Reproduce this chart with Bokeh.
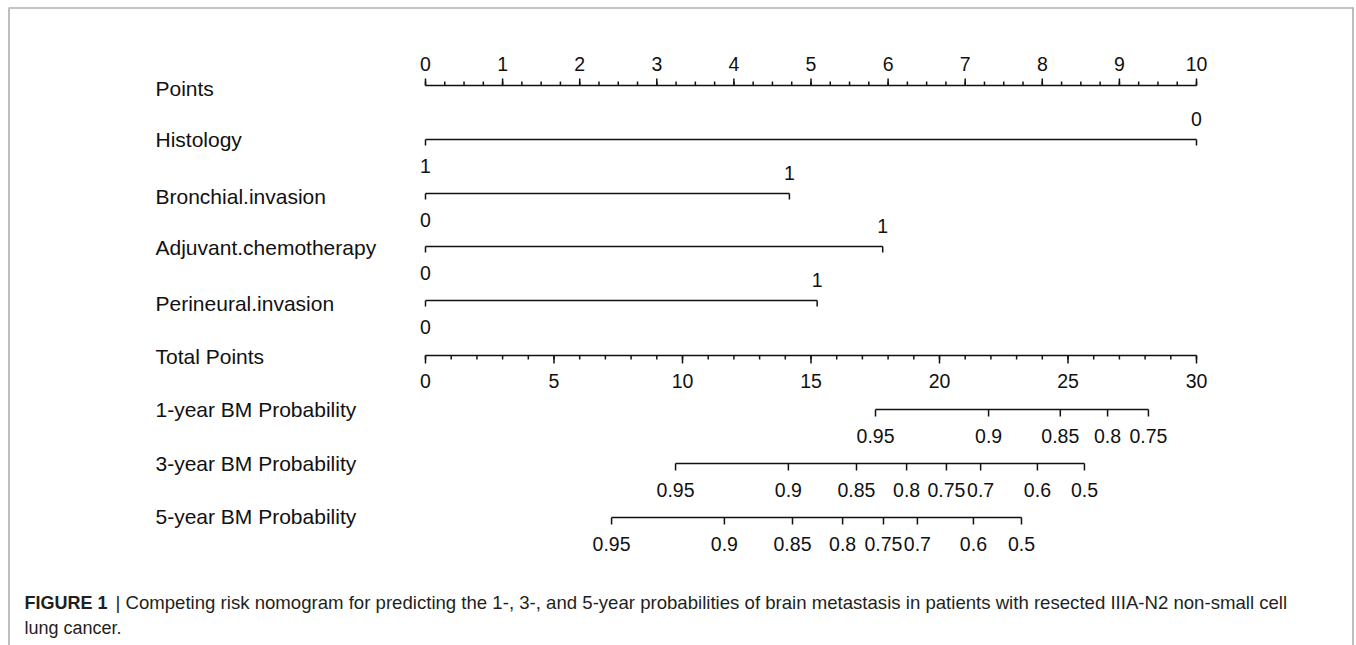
from bokeh.plotting import figure
from bokeh.models import Range1d
from bokeh.core.properties import value
from bokeh.embed import file_html
from bokeh.resources import INLINE

# ---------------- data ----------------
points_major = list(range(0, 11))
points_labels = [str(v) for v in points_major]
points_minor = [i * 0.25 for i in range(0, 41)]

total_major = [0, 5, 10, 15, 20, 25, 30]
total_labels = [str(v) for v in total_major]
total_minor = list(range(0, 31))

row_names = ["Points", "Histology", "Bronchial.invasion", "Adjuvant.chemotherapy",
             "Perineural.invasion", "Total Points", "1-year BM Probability",
             "3-year BM Probability", "5-year BM Probability"]

var_names = ["Histology", "Bronchial.invasion", "Adjuvant.chemotherapy", "Perineural.invasion"]
var_levels = [["1", "0"], ["0", "1"], ["0", "1"], ["0", "1"]]
var_points = [[0.0, 10.0], [0.0, 4.72], [0.0, 5.93], [0.0, 5.08]]

prob_names = ["1-year BM Probability", "3-year BM Probability", "5-year BM Probability"]
prob_labels = [
    ["0.95", "0.9", "0.85", "0.8", "0.75"],
    ["0.95", "0.9", "0.85", "0.8", "0.75", "0.7", "0.6", "0.5"],
    ["0.95", "0.9", "0.85", "0.8", "0.75", "0.7", "0.6", "0.5"],
]
prob_total = [
    [17.51, 21.91, 24.70, 26.54, 28.13],
    [9.73, 14.12, 16.77, 18.72, 20.27, 21.60, 23.81, 25.64],
    [7.24, 11.63, 14.28, 16.23, 17.82, 19.14, 21.32, 23.19],
]

caption_bold = "FIGURE 1"
caption_line1 = "| Competing risk nomogram for predicting the 1-, 3-, and 5-year probabilities of brain metastasis in patients with resected IIIA-N2 non-small cell"
caption_line2 = "lung cancer."

# ---------------- layout ----------------
W, H = 1356, 645
X0 = 425.0          # page x of 0 points
PPU = 77.1          # page px per point
def px(xpage):      # page pixel -> points units (layout helper)
    return (xpage - X0) / PPU
def tot(t):         # total points -> points units
    return t / 3.0

FONT = value("Liberation Sans")
INK = "#111111"
LW = 1.5
TICK_FS = "19.5px"

p = figure(width=W, height=H, output_backend="svg", toolbar_location=None,
           x_range=Range1d(px(0), px(W)), y_range=Range1d(H, 0),
           min_border=0, outline_line_color=None)
p.axis.visible = False
p.grid.visible = False
p.background_fill_color = "white"
p.border_fill_color = "white"

# frame (light grey box)
p.line([px(8.5), px(8.5)], [7, H], line_color="#a8a8a8", line_width=1.5)
p.line([px(8.5), px(1352.5)], [7.5, 7.5], line_color="#c4c4c4", line_width=2)
p.line([px(1352.5), px(1352.5)], [7, H], line_color="#a8a8a8", line_width=1.5)

# row labels
row_y = [88, 139, 196, 247, 303, 356, 409, 463, 516]
p.text(x=[px(155)] * len(row_names), y=row_y, text=row_names,
       text_font=FONT, text_font_size="21px", text_color=INK,
       text_baseline="middle", text_align="left")

# Points axis
yP = 85
p.line([points_major[0], points_major[-1]], [yP, yP], line_color=INK, line_width=LW)
p.segment(x0=points_minor, y0=[yP] * len(points_minor), x1=points_minor,
          y1=[yP - 4] * len(points_minor), line_color=INK, line_width=LW)
p.segment(x0=points_major, y0=[yP] * len(points_major), x1=points_major,
          y1=[yP - 7] * len(points_major), line_color=INK, line_width=LW)
p.text(x=points_major, y=[63] * len(points_major), text=points_labels,
       text_font=FONT, text_font_size=TICK_FS, text_color=INK,
       text_baseline="middle", text_align="center")

# variables
var_line_y = [139, 193, 246, 300]
for name, levels, pts, yl in zip(var_names, var_levels, var_points, var_line_y):
    p.line([pts[0], pts[-1]], [yl, yl], line_color=INK, line_width=LW)
    p.segment(x0=pts, y0=[yl] * len(pts), x1=pts, y1=[yl + 6] * len(pts),
              line_color=INK, line_width=LW)
    p.text(x=[pts[0]], y=[yl + 26], text=[levels[0]], text_font=FONT,
           text_font_size=TICK_FS, text_color=INK, text_baseline="middle", text_align="center")
    p.text(x=[pts[1]], y=[yl - 21], text=[levels[1]], text_font=FONT,
           text_font_size=TICK_FS, text_color=INK, text_baseline="middle", text_align="center")

# Total points axis
yT = 355
tmaj = [tot(v) for v in total_major]
tmin = [tot(v) for v in total_minor]
p.line([tmaj[0], tmaj[-1]], [yT, yT], line_color=INK, line_width=LW)
p.segment(x0=tmin, y0=[yT] * len(tmin), x1=tmin, y1=[yT + 4] * len(tmin),
          line_color=INK, line_width=LW)
p.segment(x0=tmaj, y0=[yT] * len(tmaj), x1=tmaj, y1=[yT + 8] * len(tmaj),
          line_color=INK, line_width=LW)
p.text(x=tmaj, y=[380] * len(tmaj), text=total_labels, text_font=FONT,
       text_font_size=TICK_FS, text_color=INK, text_baseline="middle", text_align="center")

# probability axes
prob_line_y = [409, 463, 517]
for labels, totals, yl in zip(prob_labels, prob_total, prob_line_y):
    xs = [tot(v) for v in totals]
    p.line([min(xs), max(xs)], [yl, yl], line_color=INK, line_width=LW)
    p.segment(x0=xs, y0=[yl] * len(xs), x1=xs, y1=[yl + 7] * len(xs),
              line_color=INK, line_width=LW)
    p.text(x=xs, y=[yl + 26] * len(xs), text=labels, text_font=FONT,
           text_font_size=TICK_FS, text_color=INK, text_baseline="middle", text_align="center")

# caption
CAP = "#231f20"
p.text(x=[px(24)], y=[602], text=[caption_bold], text_font=FONT, text_font_style="bold",
       text_font_size="18px", text_color=CAP, text_baseline="middle", text_align="left")
p.text(x=[px(115)], y=[602], text=[caption_line1], text_font=FONT,
       text_font_size="18.6px", text_color=CAP, text_baseline="middle", text_align="left")
p.text(x=[px(24)], y=[627], text=[caption_line2], text_font=FONT,
       text_font_size="18px", text_color=CAP, text_baseline="middle", text_align="left")

open("out.html", "w").write(file_html(p, INLINE))
